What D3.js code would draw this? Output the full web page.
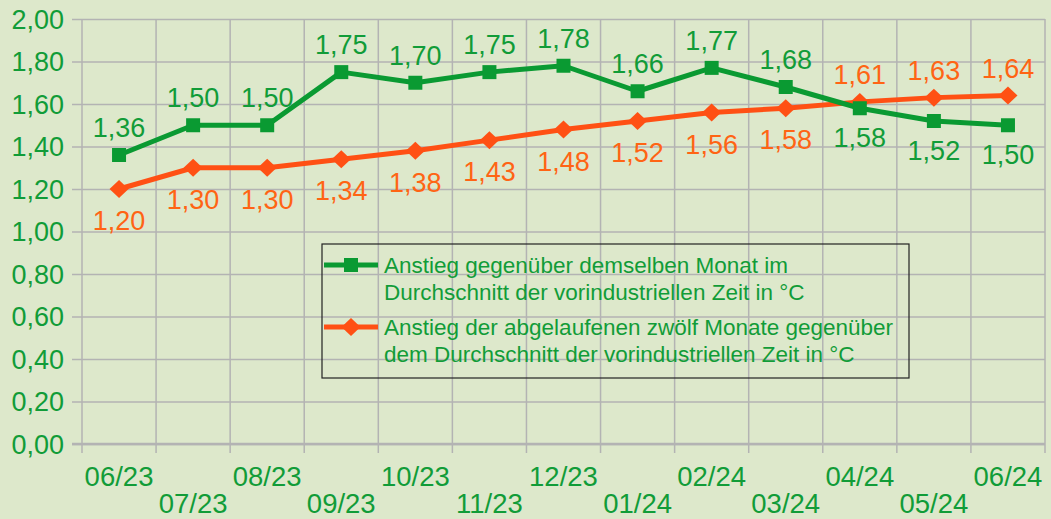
<!DOCTYPE html>
<html>
<head>
<meta charset="utf-8">
<script src="https://cdn.jsdelivr.net/npm/d3@7"></script>
<style>
  html, body { margin: 0; padding: 0; background: #dde8cb; }
  svg { display: block; font-family: "Liberation Sans", Arial, sans-serif; }
</style>
</head>
<body>
<div id="chart"></div>
<script>
// Data
const months = ["06/23", "07/23", "08/23", "09/23", "10/23", "11/23", "12/23",
  "01/24", "02/24", "03/24", "04/24", "05/24", "06/24"];
const monthRise = [1.36, 1.50, 1.50, 1.75, 1.70, 1.75, 1.78, 1.66, 1.77, 1.68, 1.58, 1.52, 1.50];
const yearRise = [1.20, 1.30, 1.30, 1.34, 1.38, 1.43, 1.48, 1.52, 1.56, 1.58, 1.61, 1.63, 1.64];
const yTicks = [0, 0.2, 0.4, 0.6, 0.8, 1.0, 1.2, 1.4, 1.6, 1.8, 2.0];
const legendLabels = [
  ["Anstieg gegenüber demselben Monat im", "Durchschnitt der vorindustriellen Zeit in °C"],
  ["Anstieg der abgelaufenen zwölf Monate gegenüber", "dem Durchschnitt der vorindustriellen Zeit in °C"]
];

const width = 1051, height = 519;
const margin = { top: 19, right: 6, bottom: 75, left: 82 };
const innerW = width - margin.left - margin.right;
const innerH = height - margin.top - margin.bottom;

const green = "#0a9a32", greenText = "#119c38";
const orange = "#ff5014", orangeText = "#ff6414";
const gridColor = "#b3b3b3";

const fmt = (v) => v.toFixed(2).replace(".", ",");

const svg = d3.select("#chart").append("svg")
  .attr("width", width).attr("height", height);
svg.append("rect").attr("width", width).attr("height", height).attr("fill", "#dde8cb");

const g = svg.append("g").attr("transform", `translate(${margin.left},${margin.top})`);

const x = d3.scaleBand().domain(months).range([0, innerW]);
const y = d3.scaleLinear().domain([0, 2]).range([innerH, 0]);
const cx = (d) => x(d) + x.bandwidth() / 2;

// horizontal grid + y labels
g.append("g")
  .call(d3.axisLeft(y).tickValues(yTicks).tickSize(-innerW - 10).tickFormat(""))
  .attr("transform", "translate(-10,0)")
  .call((a) => a.select(".domain").remove())
  .selectAll(".tick line").attr("stroke", gridColor).attr("stroke-width", 1.5)
  .attr("transform", "translate(10,0)").attr("x2", -10).attr("x1", innerW);

g.selectAll(".ylab").data(yTicks).enter().append("text")
  .attr("x", -18).attr("y", (d) => y(d) + 9.5)
  .attr("text-anchor", "end").attr("font-size", 27).attr("fill", greenText)
  .text(fmt);

// vertical grid at band edges
const edges = months.map((m) => x(m)).concat([innerW]);
g.selectAll(".vgrid").data(edges).enter().append("line")
  .attr("x1", (d) => d).attr("x2", (d) => d)
  .attr("y1", 0).attr("y2", innerH + 9)
  .attr("stroke", gridColor).attr("stroke-width", 1.5);

// x axis line
g.append("line").attr("x1", -10).attr("x2", innerW).attr("y1", innerH).attr("y2", innerH)
  .attr("stroke", gridColor).attr("stroke-width", 2.5);

// x labels, staggered
g.selectAll(".xlab").data(months).enter().append("text")
  .attr("x", cx)
  .attr("y", (d, i) => innerH + (i % 2 === 0 ? 42 : 69))
  .attr("text-anchor", "middle").attr("font-size", 27.5).attr("fill", greenText)
  .text((d) => d);

const line = (vals) => d3.line().x((d, i) => cx(months[i])).y((d) => y(d))(vals);

// orange series
g.append("path").attr("d", line(yearRise)).attr("fill", "none")
  .attr("stroke", orange).attr("stroke-width", 5).attr("stroke-linejoin", "round");
g.selectAll(".dia").data(yearRise).enter().append("path")
  .attr("d", "M0,-9L9.5,0L0,9L-9.5,0Z")
  .attr("transform", (d, i) => `translate(${cx(months[i])},${y(d)})`)
  .attr("fill", orange);

// green series
g.append("path").attr("d", line(monthRise)).attr("fill", "none")
  .attr("stroke", green).attr("stroke-width", 5).attr("stroke-linejoin", "round");
g.selectAll(".sq").data(monthRise).enter().append("rect")
  .attr("x", (d, i) => cx(months[i]) - 7).attr("y", (d) => y(d) - 7)
  .attr("width", 14).attr("height", 14).attr("fill", green);

// data labels: green above except last three, orange below except last three
g.selectAll(".glab").data(monthRise).enter().append("text")
  .attr("x", (d, i) => cx(months[i]))
  .attr("y", (d, i) => y(d) + (i >= 10 ? 39 : -18))
  .attr("text-anchor", "middle").attr("font-size", 27).attr("fill", greenText)
  .text(fmt);
g.selectAll(".olab").data(yearRise).enter().append("text")
  .attr("x", (d, i) => cx(months[i]))
  .attr("y", (d, i) => y(d) + (i >= 10 ? -18 : 41))
  .attr("text-anchor", "middle").attr("font-size", 27).attr("fill", orangeText)
  .text(fmt);

// legend
const lg = svg.append("g").attr("transform", "translate(322,244)");
lg.append("rect").attr("width", 587).attr("height", 134)
  .attr("fill", "none").attr("stroke", "#222").attr("stroke-width", 1.2);
const legendItems = [
  { color: green, lines: legendLabels[0], shape: "sq" },
  { color: orange, lines: legendLabels[1], shape: "dia" }
];
legendItems.forEach((it, k) => {
  const yy = 21 + k * 62;
  lg.append("line").attr("x1", 2).attr("x2", 56).attr("y1", yy).attr("y2", yy)
    .attr("stroke", it.color).attr("stroke-width", 5);
  if (it.shape === "sq") {
    lg.append("rect").attr("x", 22).attr("y", yy - 7).attr("width", 14).attr("height", 14)
      .attr("fill", it.color);
  } else {
    lg.append("path").attr("d", "M0,-9L9.5,0L0,9L-9.5,0Z")
      .attr("transform", `translate(29,${yy})`).attr("fill", it.color);
  }
  it.lines.forEach((t, j) => {
    lg.append("text").attr("x", 62).attr("y", yy + 8 + j * 27)
      .attr("font-size", 22.5).attr("fill", greenText).text(t);
  });
});
</script>
</body>
</html>
